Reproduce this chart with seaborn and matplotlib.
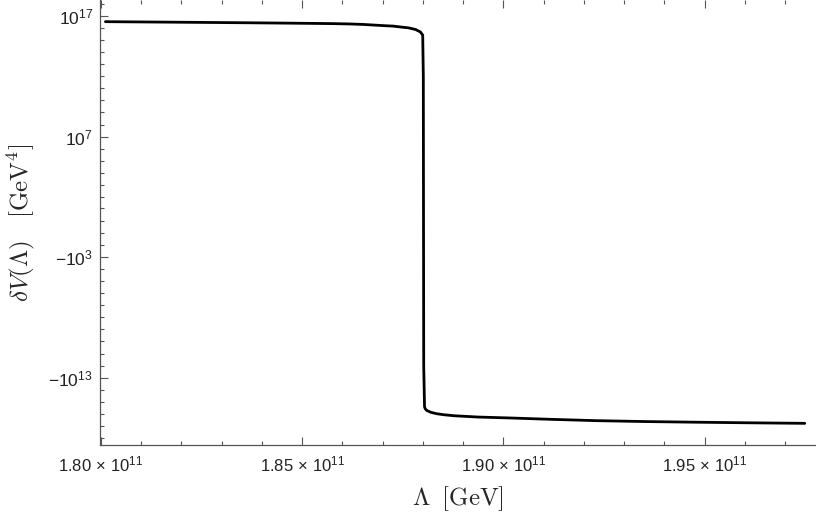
import numpy as np
import pandas as pd
import matplotlib
matplotlib.use("Agg")
import matplotlib.pyplot as plt
import matplotlib.ticker as mticker
import seaborn as sns

# Lambda [GeV] and deltaV(Lambda) [GeV^4]
lam = [1.8011e11, 1.8175e11, 1.8368e11, 1.8476e11, 1.8576e11, 1.8618e11,
       1.8652e11, 1.8702e11, 1.8727e11, 1.8752e11, 1.8764e11, 1.8782e11,
       1.8794e11, 1.87995e11, 1.8801e11, 1.88015e11, 1.8802e11,
       1.8804e11, 1.8806e11, 1.8810e11, 1.8820e11, 1.8835e11, 1.8852e11,
       1.8877e11, 1.8936e11, 1.9019e11, 1.9120e11, 1.9228e11, 1.9350e11,
       1.9479e11, 1.9610e11, 1.9749e11]
dV = [3.4e16, 3.1e16, 2.75e16, 2.55e16, 2.35e16, 2.2e16,
      2.0e16, 1.6e16, 1.45e16, 1.15e16, 1.05e16, 7.6e15,
      4.7e15, 2.6e15, 1.0e12, 0.0, -1.0e12,
      -2.6e15, -4.0e15, -5.4e15, -7.6e15, -1.0e16, -1.2e16,
      -1.45e16, -1.86e16, -2.24e16, -2.9e16, -3.7e16, -4.4e16,
      -5.0e16, -5.6e16, -6.2e16]

x_major = [1.80e11, 1.85e11, 1.90e11, 1.95e11]
x_labels = [r"$1.80\,\times\,10^{11}$", r"$1.85\,\times\,10^{11}$",
            r"$1.90\,\times\,10^{11}$", r"$1.95\,\times\,10^{11}$"]
y_major = [1e17, 1e7, -1e3, -1e13]
y_labels = [r"$10^{17}$", r"$10^{7}$", r"$-10^{3}$", r"$-10^{13}$"]


def fwd(v):
    v = np.asarray(v, dtype=float)
    return np.sign(v) * np.log10(1.0 + np.abs(v))


def inv(t):
    t = np.asarray(t, dtype=float)
    return np.sign(t) * (10.0 ** np.abs(t) - 1.0)


sns.set_theme(style="ticks")
plt.rcParams["font.family"] = ["Liberation Sans", "DejaVu Sans"]
plt.rcParams["mathtext.fontset"] = "custom"
plt.rcParams["mathtext.rm"] = "Liberation Sans"
plt.rcParams["mathtext.it"] = "Liberation Sans:italic"

df = pd.DataFrame({"lam": lam, "dV": dV})

fig = plt.figure(figsize=(8.16, 5.17), dpi=100)
ax = fig.add_axes([100 / 816, 72 / 517, 716 / 816, 445 / 517])
ax.set_yscale("function", functions=(fwd, inv))

sns.lineplot(data=df, x="lam", y="dV", ax=ax, color="black", lw=2.0,
             sort=False, estimator=None)

ax.set_xlim(1.79975e11, 1.97769e11)
ax.set_ylim(inv(-18.59), inv(18.33))

ax.set_xticks(x_major)
ax.set_xticklabels(x_labels)
ax.xaxis.set_minor_locator(mticker.MultipleLocator(1e9))
ax.set_yticks(y_major)
ax.set_yticklabels(y_labels)
minor_y = [s * 10.0 ** k for s in (1, -1) for k in range(1, 19)] + [0.0]
ax.yaxis.set_minor_locator(mticker.FixedLocator(minor_y))

grey = "#555555"
for side in ("left", "bottom"):
    ax.spines[side].set_color(grey)
    ax.spines[side].set_linewidth(0.9)
ax.spines["top"].set_visible(False)
ax.spines["right"].set_visible(False)
ax.tick_params(which="both", direction="in", color=grey, width=0.8,
               top=True, right=False, labelcolor="#222222")
ax.tick_params(axis="x", labelsize=12, pad=7)
ax.tick_params(axis="y", labelsize=12.5, pad=5)
ax.tick_params(which="major", length=5.5)
ax.tick_params(which="minor", length=3.2)

ax.set_xlabel(r"$\Lambda\;\;[\mathrm{GeV}]$", fontsize=18,
              math_fontfamily="cm", labelpad=7)
ax.set_ylabel(r"$\delta V(\Lambda)\quad[\mathrm{GeV}^4]$", fontsize=18,
              math_fontfamily="cm", labelpad=8)

fig.savefig("out.png", dpi=100)
